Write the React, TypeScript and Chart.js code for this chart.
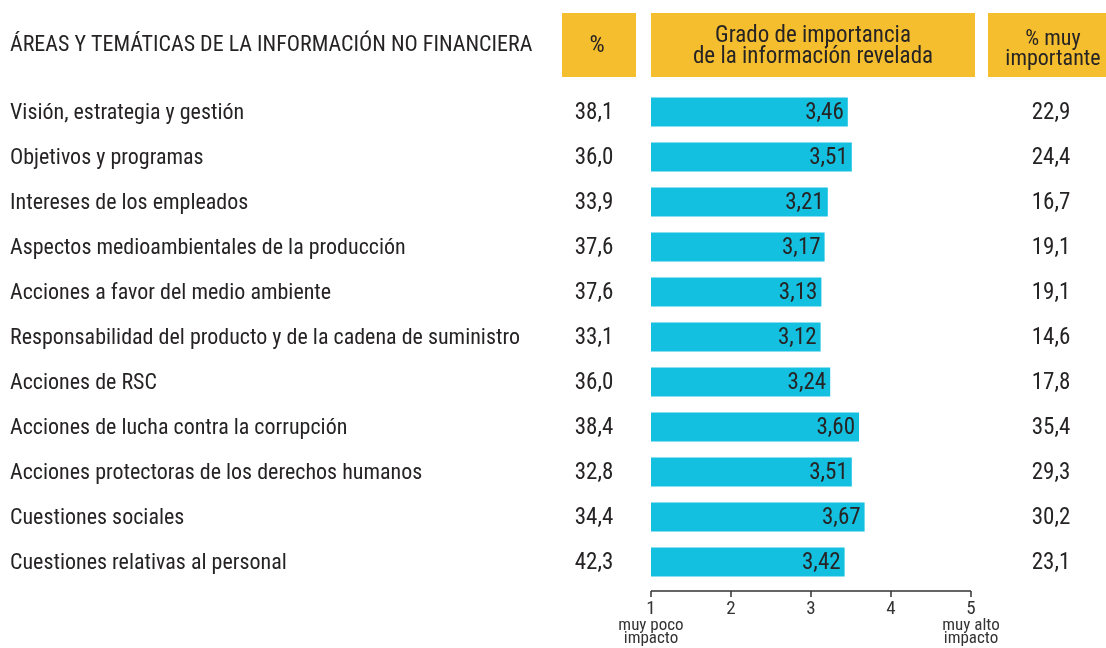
import { useEffect, useRef } from "react";
import { Chart, registerables } from "chart.js";

Chart.register(...registerables);

const title = "ÁREAS Y TEMÁTICAS DE LA INFORMACIÓN NO FINANCIERA";
const categories = [
  "Visión, estrategia y gestión",
  "Objetivos y programas",
  "Intereses de los empleados",
  "Aspectos medioambientales de la producción",
  "Acciones a favor del medio ambiente",
  "Responsabilidad del producto y de la cadena de suministro",
  "Acciones de RSC",
  "Acciones de lucha contra la corrupción",
  "Acciones protectoras de los derechos humanos",
  "Cuestiones sociales",
  "Cuestiones relativas al personal",
];
const pctValues = [38.1, 36.0, 33.9, 37.6, 37.6, 33.1, 36.0, 38.4, 32.8, 34.4, 42.3];
const importance = [3.46, 3.51, 3.21, 3.17, 3.13, 3.12, 3.24, 3.6, 3.51, 3.67, 3.42];
const veryImportant = [22.9, 24.4, 16.7, 19.1, 19.1, 14.6, 17.8, 35.4, 29.3, 30.2, 23.1];
const xTicks = [1, 2, 3, 4, 5];
const xLowLabel = ["muy poco", "impacto"];
const xHighLabel = ["muy alto", "impacto"];
const headerPct = ["%"];
const headerGrade = ["Grado de importancia", "de la información revelada"];
const headerVery = ["% muy", "importante"];

const FONT = '"Roboto Condensed", "DejaVu Sans Condensed", sans-serif';
const TEXT = "#262324";
const YELLOW = "#f5be2e";
const CYAN = "#14c0e0";

const fmt1 = (v: number) => v.toFixed(1).replace(".", ",");
const fmt2 = (v: number) => v.toFixed(2).replace(".", ",");

const tablePlugin = {
  id: "tableText",
  afterDatasetsDraw(chart: any) {
    const ctx = chart.ctx as CanvasRenderingContext2D;
    const xs = chart.scales.x;
    const ys = chart.scales.y;
    const area = chart.chartArea;
    ctx.save();
    // header boxes
    ctx.fillStyle = YELLOW;
    ctx.fillRect(562, 13, 74, 64);
    ctx.fillRect(xs.left, 13, xs.right - xs.left + 4, 64);
    ctx.fillRect(988, 13, 118, 64);

    ctx.fillStyle = TEXT;
    ctx.textBaseline = "alphabetic";
    ctx.textAlign = "left";
    ctx.font = `22px ${FONT}`;
    ctx.fillText(title, 10, 51);

    ctx.textAlign = "center";
    ctx.font = `24px ${FONT}`;
    ctx.fillText(headerPct[0], 597, 52);
    ctx.font = `23px ${FONT}`;
    const gx = (xs.left + xs.right + 4) / 2;
    ctx.fillText(headerGrade[0], gx, 42);
    ctx.fillText(headerGrade[1], gx, 63);
    ctx.font = `22px ${FONT}`;
    ctx.fillText(headerVery[0], 1053, 45);
    ctx.fillText(headerVery[1], 1053, 65);

    // rows
    ctx.textBaseline = "middle";
    categories.forEach((c, i) => {
      const y = ys.getPixelForValue(i) + 1;
      ctx.textAlign = "left";
      ctx.font = `22px ${FONT}`;
      ctx.fillText(c, 10, y);
      ctx.textAlign = "center";
      ctx.font = `23px ${FONT}`;
      ctx.fillText(fmt1(pctValues[i]), 594, y);
      ctx.fillText(fmt1(veryImportant[i]), 1051, y);
      ctx.textAlign = "right";
      ctx.fillText(fmt2(importance[i]), xs.getPixelForValue(importance[i]) - 4, y);
    });

    // axis
    const ay = area.bottom + 6.5;
    ctx.strokeStyle = "#333";
    ctx.lineWidth = 1.5;
    ctx.beginPath();
    ctx.moveTo(xs.getPixelForValue(xTicks[0]), ay);
    ctx.lineTo(xs.getPixelForValue(xTicks[xTicks.length - 1]), ay);
    xTicks.forEach((t) => {
      const px = xs.getPixelForValue(t);
      ctx.moveTo(px, ay);
      ctx.lineTo(px, ay + 6);
    });
    ctx.stroke();
    ctx.fillStyle = "#333";
    ctx.textAlign = "center";
    ctx.textBaseline = "alphabetic";
    ctx.font = `19px ${FONT}`;
    xTicks.forEach((t) => ctx.fillText(String(t), xs.getPixelForValue(t), 614));
    ctx.font = `17px ${FONT}`;
    const lx = xs.getPixelForValue(xTicks[0]);
    const hx = xs.getPixelForValue(xTicks[xTicks.length - 1]);
    ctx.fillText(xLowLabel[0], lx, 630);
    ctx.fillText(xLowLabel[1], lx, 643);
    ctx.fillText(xHighLabel[0], hx, 630);
    ctx.fillText(xHighLabel[1], hx, 643);
    ctx.restore();
  },
};

export default function App() {
  const ref = useRef<HTMLCanvasElement | null>(null);
  useEffect(() => {
    if (!ref.current) return;
    const chart = new Chart(ref.current, {
      type: "bar",
      data: {
        labels: categories,
        datasets: [
          {
            data: importance,
            base: 1,
            backgroundColor: CYAN,
            borderWidth: 0,
            barPercentage: 0.64,
            categoryPercentage: 1,
          } as any,
        ],
      },
      options: {
        indexAxis: "y",
        animation: false,
        responsive: false,
        layout: { padding: { left: 651, right: 135, top: 89.5, bottom: 63.5 } },
        scales: {
          x: { type: "linear", min: 1, max: 5, display: false },
          y: { type: "category", display: false, offset: true },
        },
        plugins: { legend: { display: false }, tooltip: { enabled: false } },
      },
      plugins: [tablePlugin],
    });
    return () => chart.destroy();
  }, []);
  return (
    <div style={{ position: "absolute", left: 0, top: 0, width: 1106, height: 648, background: "#fff" }}>
      <canvas ref={ref} width={1106} height={648} style={{ display: "block" }} />
    </div>
  );
}
